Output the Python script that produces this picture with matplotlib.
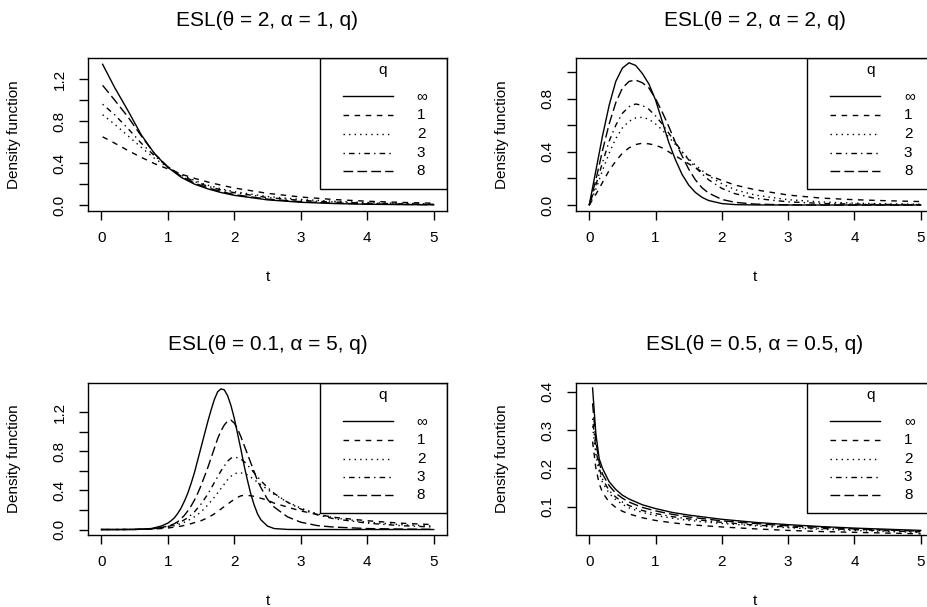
import matplotlib
matplotlib.use('Agg')
import matplotlib.pyplot as plt
from matplotlib.patches import Rectangle
from matplotlib.lines import Line2D

plt.rcParams['font.family'] = ['Liberation Sans', 'DejaVu Sans']

# values
q_labels = ['\u221e', '1', '2', '3', '8']

# panel 1: ESL(theta=2, alpha=1, q)
t1 = [0.02, 0.2, 0.4, 0.6, 0.8, 1.0, 1.2, 1.4, 1.6, 1.8, 2.0, 2.5, 3.0, 3.5, 4.0, 4.5, 5.0]
p1_inf = [1.34, 1.12, 0.90, 0.67, 0.49, 0.36, 0.265, 0.20, 0.155, 0.12, 0.093, 0.05, 0.027, 0.015, 0.008, 0.005, 0.003]
p1_q1 = [0.65, 0.59, 0.52, 0.455, 0.395, 0.345, 0.295, 0.255, 0.22, 0.19, 0.163, 0.112, 0.077, 0.053, 0.037, 0.026, 0.018]
p1_q2 = [0.86, 0.77, 0.66, 0.55, 0.445, 0.36, 0.29, 0.235, 0.19, 0.155, 0.128, 0.082, 0.054, 0.036, 0.024, 0.016, 0.011]
p1_q3 = [0.96, 0.86, 0.73, 0.59, 0.47, 0.365, 0.285, 0.225, 0.18, 0.145, 0.118, 0.072, 0.045, 0.029, 0.019, 0.012, 0.008]
p1_q8 = [1.14, 1.00, 0.84, 0.66, 0.49, 0.365, 0.275, 0.21, 0.165, 0.13, 0.10, 0.057, 0.033, 0.019, 0.011, 0.007, 0.004]

# panel 2: ESL(theta=2, alpha=2, q)
t2 = [0, 0.1, 0.2, 0.3, 0.4, 0.5, 0.6, 0.7, 0.8, 0.9, 1.0, 1.1, 1.2, 1.3, 1.4, 1.5, 1.6, 1.7, 1.8, 2.0, 2.2, 2.5, 3.0, 3.5, 4.0, 4.5, 5.0]
p2_inf = [0, 0.26, 0.52, 0.75, 0.93, 1.03, 1.07, 1.05, 0.99, 0.91, 0.79, 0.63, 0.47, 0.34, 0.23, 0.15, 0.095, 0.058, 0.034, 0.011, 0.003, 0.0005, 0, 0, 0, 0, 0]
p2_q1 = [0, 0.08, 0.17, 0.26, 0.33, 0.39, 0.43, 0.455, 0.465, 0.46, 0.45, 0.43, 0.40, 0.37, 0.34, 0.31, 0.28, 0.25, 0.225, 0.185, 0.15, 0.115, 0.075, 0.052, 0.04, 0.032, 0.026]
p2_q2 = [0, 0.12, 0.26, 0.39, 0.50, 0.58, 0.63, 0.655, 0.66, 0.645, 0.61, 0.565, 0.51, 0.455, 0.40, 0.35, 0.30, 0.26, 0.22, 0.16, 0.115, 0.075, 0.04, 0.023, 0.014, 0.009, 0.006]
p2_q3 = [0, 0.15, 0.32, 0.48, 0.60, 0.69, 0.74, 0.76, 0.75, 0.72, 0.67, 0.61, 0.54, 0.47, 0.40, 0.34, 0.285, 0.235, 0.19, 0.125, 0.085, 0.05, 0.024, 0.012, 0.007, 0.004, 0.003]
p2_q8 = [0, 0.19, 0.41, 0.61, 0.77, 0.88, 0.93, 0.94, 0.92, 0.88, 0.80, 0.70, 0.59, 0.47, 0.37, 0.27, 0.19, 0.13, 0.09, 0.042, 0.02, 0.007, 0.001, 0, 0, 0, 0]

# panel 3: ESL(theta=0.1, alpha=5, q)
t3 = [0, 0.25, 0.5, 0.75, 0.9,
      1.0, 1.05, 1.1, 1.15, 1.2, 1.25, 1.3, 1.35, 1.4, 1.45, 1.5, 1.55, 1.6, 1.65, 1.7,
      1.75, 1.8, 1.85, 1.9, 1.95, 2.0, 2.05, 2.1, 2.15, 2.2, 2.25, 2.3, 2.35, 2.4,
      2.5, 2.6, 2.8, 3.0, 3.25, 3.5, 4.0, 4.5, 5.0]
p3_inf = [0, 0, 0.001, 0.01, 0.035,
          0.065, 0.09, 0.12, 0.165, 0.22, 0.29, 0.37, 0.47, 0.58, 0.71, 0.84, 0.97, 1.10, 1.22, 1.33,
          1.41, 1.44, 1.43, 1.37, 1.27, 1.14, 0.98, 0.82, 0.65, 0.50, 0.36, 0.25, 0.16, 0.10,
          0.035, 0.01, 0.001, 0, 0, 0, 0, 0, 0]
p3_q1 = [0, 0, 0.001, 0.005, 0.01,
         0.015, 0.02, 0.025, 0.03, 0.035, 0.042, 0.05, 0.06, 0.07, 0.08, 0.09, 0.105, 0.12, 0.14, 0.16,
         0.185, 0.21, 0.235, 0.26, 0.285, 0.31, 0.33, 0.345, 0.35, 0.35, 0.345, 0.34, 0.33, 0.32,
         0.30, 0.27, 0.23, 0.19, 0.155, 0.125, 0.09, 0.065, 0.05]
p3_q2 = [0, 0, 0.001, 0.005, 0.015,
         0.025, 0.032, 0.04, 0.05, 0.06, 0.075, 0.09, 0.11, 0.13, 0.155, 0.18, 0.215, 0.25, 0.29, 0.33,
         0.375, 0.42, 0.465, 0.51, 0.545, 0.57, 0.58, 0.58, 0.57, 0.56, 0.535, 0.51, 0.485, 0.46,
         0.41, 0.36, 0.28, 0.22, 0.16, 0.12, 0.075, 0.05, 0.035]
p3_q3 = [0, 0, 0.001, 0.006, 0.018,
         0.03, 0.04, 0.05, 0.065, 0.08, 0.10, 0.12, 0.15, 0.18, 0.22, 0.26, 0.31, 0.36, 0.42, 0.48,
         0.54, 0.60, 0.65, 0.70, 0.73, 0.74, 0.735, 0.72, 0.695, 0.66, 0.62, 0.58, 0.54, 0.50,
         0.43, 0.37, 0.28, 0.21, 0.15, 0.11, 0.065, 0.04, 0.025]
p3_q8 = [0, 0, 0.001, 0.006, 0.02,
         0.035, 0.045, 0.06, 0.08, 0.11, 0.145, 0.19, 0.24, 0.30, 0.37, 0.45, 0.54, 0.63, 0.73, 0.83,
         0.93, 1.01, 1.07, 1.11, 1.12, 1.09, 1.03, 0.95, 0.86, 0.77, 0.68, 0.59, 0.50, 0.43,
         0.31, 0.23, 0.13, 0.075, 0.04, 0.025, 0.01, 0.005, 0.002]

# panel 4: ESL(theta=0.5, alpha=0.5, q)
t4 = [0.05, 0.1, 0.15, 0.2, 0.3, 0.4, 0.5, 0.6, 0.8, 1.0, 1.25, 1.5, 2.0, 2.5, 3.0, 3.5, 4.0, 4.5, 5.0]
p4_inf = [0.41, 0.29, 0.225, 0.20, 0.165, 0.145, 0.13, 0.12, 0.105, 0.095, 0.085, 0.078, 0.067, 0.059, 0.053, 0.048, 0.044, 0.041, 0.038]
p4_q1 = [0.27, 0.20, 0.16, 0.137, 0.112, 0.098, 0.088, 0.081, 0.071, 0.064, 0.058, 0.053, 0.047, 0.042, 0.038, 0.035, 0.033, 0.031, 0.029]
p4_q2 = [0.31, 0.235, 0.19, 0.163, 0.135, 0.118, 0.106, 0.097, 0.085, 0.077, 0.07, 0.064, 0.056, 0.05, 0.045, 0.041, 0.038, 0.035, 0.033]
p4_q3 = [0.33, 0.25, 0.20, 0.172, 0.142, 0.125, 0.112, 0.103, 0.09, 0.082, 0.074, 0.068, 0.059, 0.052, 0.047, 0.043, 0.04, 0.037, 0.034]
p4_q8 = [0.37, 0.27, 0.215, 0.185, 0.155, 0.135, 0.122, 0.112, 0.098, 0.089, 0.08, 0.073, 0.063, 0.056, 0.05, 0.046, 0.042, 0.039, 0.036]

xticks = [0, 1, 2, 3, 4, 5]
yticks13 = [0, 0.2, 0.4, 0.6, 0.8, 1.0, 1.2]
yticks2 = [0, 0.2, 0.4, 0.6, 0.8, 1.0]
yticks4 = [0.1, 0.2, 0.3, 0.4]

# R lty 1..5
styles = ['-', (0, (4, 4)), (0, (1, 3)), (0, (1, 3, 4, 3)), (0, (7, 3))]

W, H = 928, 607
fig = plt.figure(figsize=(W / 100, H / 100), dpi=100)


def esl_legend(ax):
    ax.add_patch(Rectangle((0.646, 0.142), 0.354, 0.858, transform=ax.transAxes,
                           fill=False, edgecolor='black', lw=1.0))
    ax.text(0.822, 0.92, 'q', transform=ax.transAxes, ha='center', va='center', fontsize=11)
    rows = [0.752, 0.627, 0.503, 0.379, 0.261]
    for y, ls, lab in zip(rows, styles, q_labels):
        ax.add_line(Line2D([0.71, 0.85], [y, y], transform=ax.transAxes,
                           color='black', lw=1.0, linestyle=ls))
        ax.text(0.916, y, lab, transform=ax.transAxes, ha='left', va='center', fontsize=11)


def panel(px, t, curves, title, ylim, yticks, ylabels, ylabel):
    left, top, right, bottom = px
    ax = fig.add_axes([left / W, 1 - bottom / H, (right - left) / W, (bottom - top) / H])
    for y, ls in zip(curves, styles):
        ax.plot(t, y, color='black', lw=1.0, linestyle=ls)
    ax.set_xlim(-0.2, 5.2)
    ax.set_ylim(*ylim)
    ax.set_xticks(xticks)
    ax.set_xticklabels([str(v) for v in xticks])
    ax.set_yticks(yticks)
    ax.set_yticklabels(ylabels)
    ax.tick_params(direction='out', length=6.5, width=1.0, labelsize=11, colors='black')
    ax.tick_params(axis='x', pad=8)
    ax.tick_params(axis='y', pad=9, labelrotation=90)
    for lab in ax.get_yticklabels():
        lab.set_va('center')
    for s in ax.spines.values():
        s.set_linewidth(1.0)
    h = bottom - top
    ax.set_title(title, fontsize=15, y=1 + 38 / h, pad=0, va='center')
    ax.set_xlabel('t', fontsize=11)
    ax.xaxis.set_label_coords(0.5, -66 / h)
    ax.xaxis.label.set_va('center')
    ax.set_ylabel(ylabel, fontsize=11)
    ax.yaxis.set_label_coords(-74 / (right - left), 0.5)
    ax.yaxis.label.set_va('center')
    esl_legend(ax)
    return ax


lab13 = ['0.0', '', '0.4', '', '0.8', '', '1.2']
lab2 = ['0.0', '', '0.4', '', '0.8', '']
lab4 = ['0.1', '0.2', '0.3', '0.4']

panel((88, 58, 447, 211), t1, [p1_inf, p1_q1, p1_q2, p1_q3, p1_q8],
      'ESL(\u03b8 = 2, \u03b1 = 1, q)', (-0.056, 1.40), yticks13, lab13, 'Density function')
panel((576, 58, 934, 211), t2, [p2_inf, p2_q1, p2_q2, p2_q3, p2_q8],
      'ESL(\u03b8 = 2, \u03b1 = 2, q)', (-0.045, 1.106), yticks2, lab2, 'Density function')
panel((88, 383, 447, 535), t3, [p3_inf, p3_q1, p3_q2, p3_q3, p3_q8],
      'ESL(\u03b8 = 0.1, \u03b1 = 5, q)', (-0.056, 1.50), yticks13, lab13, 'Density function')
panel((576, 383, 934, 535), t4, [p4_inf, p4_q1, p4_q2, p4_q3, p4_q8],
      'ESL(\u03b8 = 0.5, \u03b1 = 0.5, q)', (0.026, 0.423), yticks4, lab4, 'Density fucntion')

fig.savefig('out.png', dpi=100)
